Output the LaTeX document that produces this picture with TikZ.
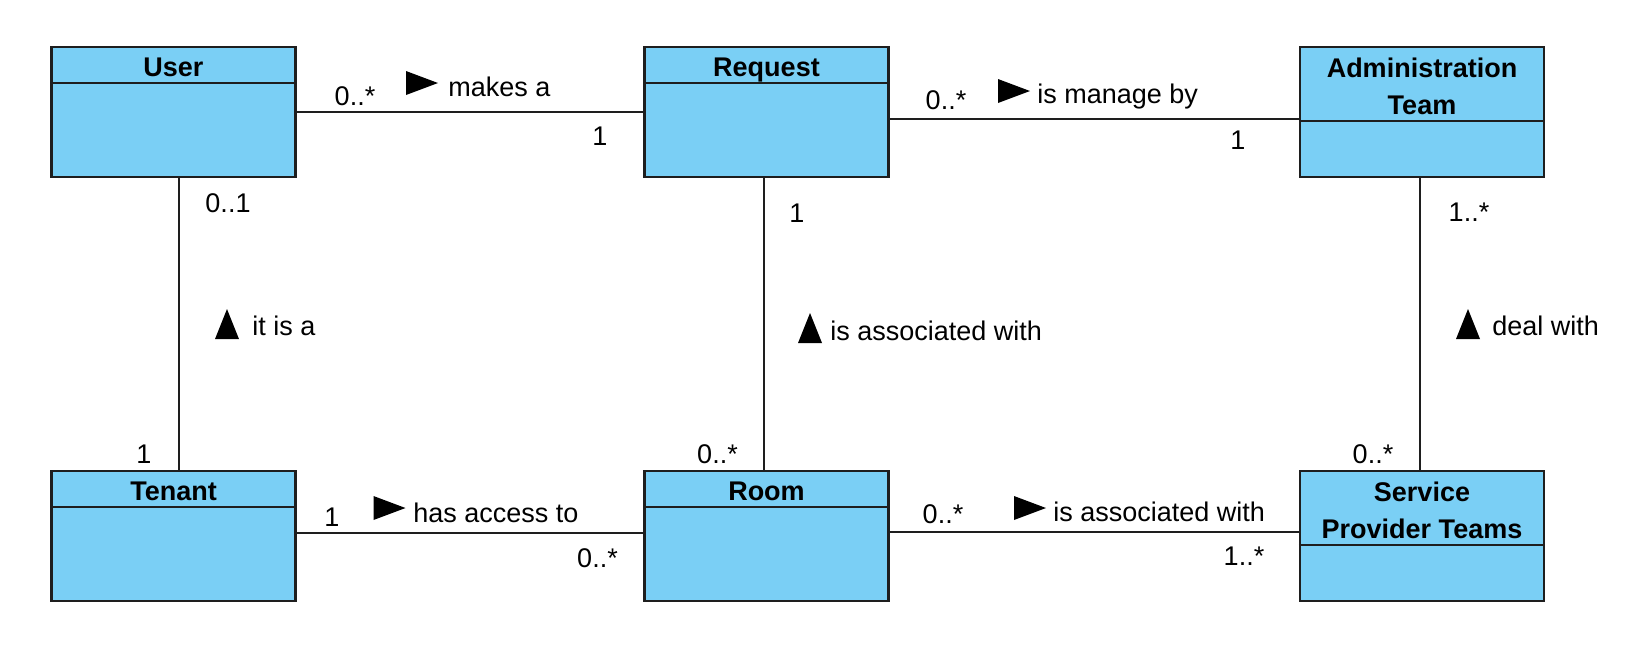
\documentclass[tikz,border=0pt]{standalone}
\usepackage{fontspec}
\setmainfont{Liberation Sans}
\definecolor{classfill}{RGB}{122,207,245}
\definecolor{classdraw}{RGB}{30,30,30}
\tikzstyle{classbox}=[rectangle,draw=classdraw,fill=classfill,line width=1.1pt,minimum width=122pt,minimum height=65pt,inner sep=0pt]
\tikzstyle{classname}=[font=\fontsize{13.5}{18.75}\selectfont\bfseries,align=center,inner sep=0pt,text depth=0pt]
\tikzstyle{assoc} = [draw=classdraw,line width=1.1pt,-]
\tikzstyle{mult}=[font=\fontsize{13.5}{16}\selectfont,inner sep=0pt,anchor=base]
\tikzstyle{role}=[mult,anchor=base west]
\tikzset{rightmark/.pic={\fill (-16,-12) -- (16,0) -- (-16,12) -- cycle;},
         upmark/.pic={\fill (-12,15) -- (0,-15) -- (12,15) -- cycle;}}

\begin{document}
\begin{tikzpicture}[x=0.5pt,y=-0.5pt]
    \useasboundingbox (0,0) rectangle (1630,655);
    % First we draw the classes
    \foreach \pos/\name/\title/\hh in {{(173.5,112)/user/User/37}, {(766.5,112)/request/Request/37}, {(1422,112)/admin/{Administration\\Team}/75}, {(173.5,536)/tenant/Tenant/37}, {(766.5,536)/room/Room/37}, {(1422,536)/spt/{Service\\Provider Teams}/75}}
    {
        \node[classbox] (\name) at \pos {};
        \draw[classdraw,line width=1.1pt] (\name.north west) ++(0,\hh) -- ++(244,0);
        \path (\name.north) ++(0,\hh/2+3) node[classname] (\name-title) {\title};
    }

    % Connect classes with associations
    \path[assoc] (user) -- (request);
    \path[assoc] ([yshift=-3.5pt]request.east) -- ([yshift=-3.5pt]admin.west);
    \path[assoc] ([xshift=2.75pt]user.south) -- ([xshift=2.75pt]tenant.north);
    \path[assoc] ([xshift=-1.25pt]request.south) -- ([xshift=-1.25pt]room.north);
    \path[assoc] ([xshift=-1pt]admin.south) -- ([xshift=-1pt]spt.north);
    \path[assoc] ([yshift=1.5pt]tenant.east) -- ([yshift=1.5pt]room.west);
    \path[assoc] ([yshift=2pt]room.east) -- ([yshift=2pt]spt.west);

    % Multiplicities and association names
    \node[mult] (ur-a) at (355,105) {0..*};
    \pic at (422,83) {rightmark};
    \node[role] (ur-name) at (448,96) {makes a};
    \node[mult] (ur-b) at (600,145) {1};

    \node[mult] (ra-a) at (946,109) {0..*};
    \pic at (1014,91) {rightmark};
    \node[role] (ra-name) at (1037,103) {is manage by};
    \node[mult] (ra-b) at (1238,149) {1};

    \node[mult] (ut-a) at (228,212) {0..1};
    \pic at (227,324) {upmark};
    \node[role] (ut-name) at (252,335) {it is a};
    \node[mult] (ut-b) at (144,463) {1};

    \node[mult] (rr-a) at (797,222) {1};
    \pic at (810,328) {upmark};
    \node[role] (rr-name) at (830,340) {is associated with};
    \node[mult] (rr-b) at (717.5,463) {0..*};

    \node[mult] (as-a) at (1469,221) {1..*};
    \pic at (1468,324) {upmark};
    \node[role] (as-name) at (1492,335) {deal with};
    \node[mult] (as-b) at (1373,463) {0..*};

    \node[mult] (tr-a) at (332,526) {1};
    \pic at (389.5,508) {rightmark};
    \node[role] (tr-name) at (413,522) {has access to};
    \node[mult] (tr-b) at (597.5,567) {0..*};

    \node[mult] (rs-a) at (943,523) {0..*};
    \pic at (1030,508) {rightmark};
    \node[role] (rs-name) at (1053,521) {is associated with};
    \node[mult] (rs-b) at (1244,565) {1..*};
\end{tikzpicture}
\end{document}
